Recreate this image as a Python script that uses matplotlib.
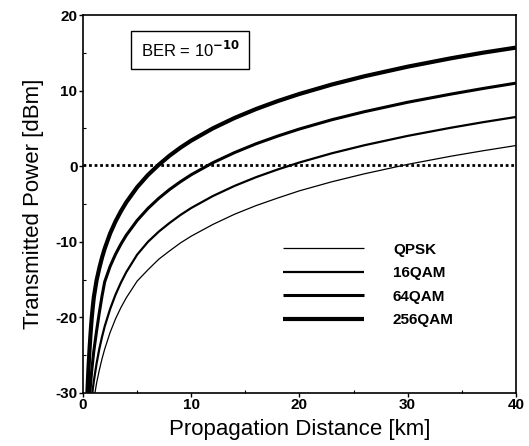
import matplotlib
matplotlib.use("Agg")
import matplotlib.pyplot as plt
from matplotlib.ticker import MultipleLocator

plt.rcParams['font.family'] = ['Liberation Sans', 'DejaVu Sans']
plt.rcParams['axes.unicode_minus'] = False

# Data (distance km, power dBm)
qpsk_d = [1.1, 1.25, 1.5, 1.75, 2, 2.5, 3, 3.5, 4, 5, 6, 7, 8, 9, 10, 12, 14, 16, 18, 20, 23, 26, 30, 34, 37, 40]
qpsk_p = [-30, -28.7, -27.0, -25.5, -24.2, -22.0, -20.2, -18.7, -17.4, -15.2, -13.7, -12.3, -11.2, -10.15, -9.25,
          -7.7, -6.35, -5.2, -4.2, -3.25, -2.05, -1.0, 0.25, 1.33, 2.06, 2.74]

qam16_d = [0.86, 0.9, 1.0, 1.25, 1.5, 1.75, 2, 2.5, 3, 3.5, 4, 5, 6, 7, 8, 9, 10, 12, 14, 16, 18, 20, 23, 26, 30, 34, 37, 40]
qam16_p = [-30, -29.5, -28.4, -26.1, -24.2, -22.6, -21.2, -18.9, -17.0, -15.4, -14.0, -11.7, -10.0, -8.65, -7.5,
           -6.45, -5.52, -3.94, -2.6, -1.44, -0.42, 0.5, 1.72, 2.78, 4.02, 5.1, 5.84, 6.52]

qam64_d = [0.63, 0.7, 0.8, 0.9, 1.0, 1.25, 1.5, 1.75, 2, 2.5, 3, 3.5, 4, 5, 6, 7, 8, 9, 10, 12, 14, 16, 18, 20, 23, 26, 30, 34, 37, 40]
qam64_p = [-30, -28.7, -27.1, -25.7, -24.4, -21.8, -19.4, -17.2, -15.3, -13.25, -11.65, -10.3, -9.12, -7.17, -5.58,
           -4.24, -3.07, -2.05, -1.12, 0.47, 1.81, 2.98, 4.0, 4.93, 6.16, 7.22, 8.47, 9.55, 10.3, 11.0]

qam256_d = [0.4, 0.45, 0.5, 0.6, 0.7, 0.8, 0.9, 1.0, 1.25, 1.5, 1.75, 2, 2.5, 3, 3.5, 4, 5, 6, 7, 8, 9, 10, 12, 14, 16, 18, 20, 23, 26, 30, 34, 37, 40]
qam256_p = [-30, -28.4, -26.8, -24.2, -22.0, -20.1, -18.6, -17.3, -15.1, -13.5, -12.1, -10.9, -8.9, -7.3, -5.95,
            -4.76, -2.77, -1.15, 0.2, 1.41, 2.46, 3.4, 5.02, 6.39, 7.58, 8.63, 9.57, 10.82, 11.91, 13.18, 14.29, 15.04, 15.7]

threshold = 0.2
labels = ["QPSK", "16QAM", "64QAM", "256QAM"]
xticks = [0, 10, 20, 30, 40]
yticks = [-30, -20, -10, 0, 10, 20]

fig = plt.figure(figsize=(5.29, 4.46), dpi=100)
ax = fig.add_axes([0.157, 0.119, 0.818, 0.847])

kw = dict(color='black', solid_joinstyle='round', solid_capstyle='butt')
ax.plot(qpsk_d, qpsk_p, lw=0.9, label=labels[0], **kw)
ax.plot(qam16_d, qam16_p, lw=1.6, label=labels[1], **kw)
ax.plot(qam64_d, qam64_p, lw=2.2, label=labels[2], **kw)
ax.plot(qam256_d, qam256_p, lw=3.0, label=labels[3], **kw)
ax.axhline(threshold, color='black', lw=2.0, linestyle=(0, (1, 1)))

ax.set_xlim(0, 40)
ax.set_ylim(-30, 20)
ax.set_xticks(xticks)
ax.set_yticks(yticks)
ax.xaxis.set_minor_locator(MultipleLocator(5))
ax.yaxis.set_minor_locator(MultipleLocator(5))
ax.tick_params(which='major', direction='out', length=3, width=1, pad=1,
               labelsize=11)
ax.tick_params(which='minor', direction='in', length=2, width=0.8)
for lab in ax.get_xticklabels() + ax.get_yticklabels():
    lab.set_fontweight('bold')
for sp in ax.spines.values():
    sp.set_linewidth(1.2)

ax.set_xlabel("Propagation Distance [km]", fontsize=16, labelpad=5)
ax.set_ylabel("Transmitted Power [dBm]", fontsize=16, labelpad=8)

ax.text(9.9, 15.4, r"BER = 10$^{\mathbf{-10}}$", fontsize=12,
        ha='center', va='center',
        bbox=dict(boxstyle='square,pad=0.55', fc='white', ec='black', lw=1))

leg = ax.legend(loc='upper left', bbox_to_anchor=(0.462, 0.398), frameon=False,
                borderaxespad=0, borderpad=0, handlelength=5.3,
                handletextpad=1.9, labelspacing=0.63,
                prop={'weight': 'bold', 'size': 11})

fig.savefig("out.png", dpi=100)
